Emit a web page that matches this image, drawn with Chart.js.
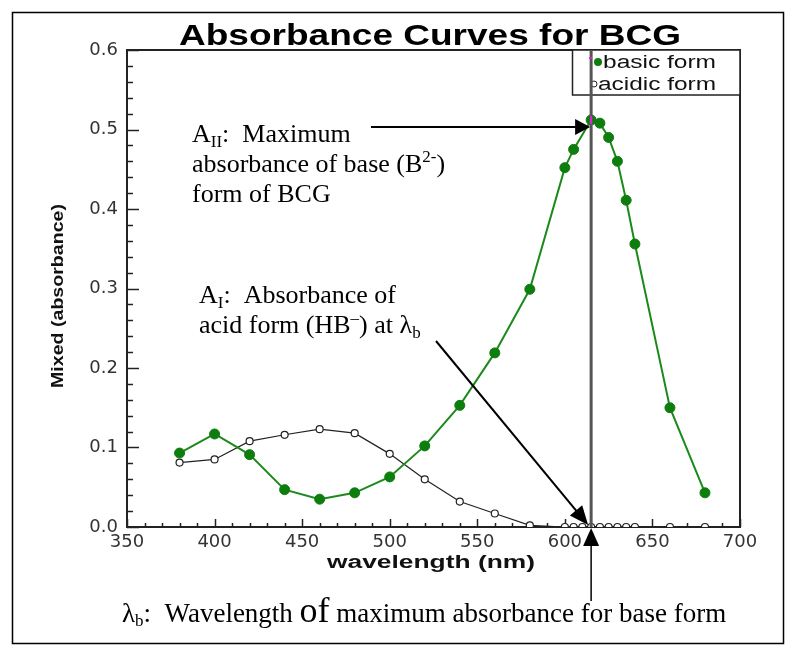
<!DOCTYPE html>
<html>
<head>
<meta charset="utf-8">
<script src="https://cdn.jsdelivr.net/npm/chart.js@4.4.1/dist/chart.umd.min.js"></script>
<style>
  body { margin: 0; background: #fff; }
  canvas { display: block; }
</style>
</head>
<body>
<canvas id="bcgChart" width="796" height="656"></canvas>
<script>
// wavelengths (nm) and absorbance values
const basicWavelength = [380, 400, 420, 440, 460, 480, 500, 520, 540, 560, 580, 600, 605, 615, 620, 625, 630, 635, 640, 660, 680];
const basicAbsorbance = [0.093, 0.117, 0.091, 0.047, 0.035, 0.043, 0.063, 0.102, 0.153, 0.219, 0.299, 0.452, 0.475, 0.512, 0.508, 0.490, 0.460, 0.411, 0.356, 0.150, 0.043];
const acidicWavelength = [380, 400, 420, 440, 460, 480, 500, 520, 540, 560, 580, 600, 605, 610, 615, 620, 625, 630, 635, 640, 660, 680];
const acidicAbsorbance = [0.081, 0.085, 0.108, 0.116, 0.123, 0.118, 0.092, 0.060, 0.032, 0.017, 0.002, 0, 0, 0, 0, 0, 0, 0, 0, 0, 0, 0];
const xTicks = [350, 400, 450, 500, 550, 600, 650, 700];
const yTicks = [0.0, 0.1, 0.2, 0.3, 0.4, 0.5, 0.6];
const lambdaB = 615;

function toPoints(xs, ys) {
    return xs.map(function (x, i) { return { x: x, y: ys[i] }; });
}

// draw text squeezed/stretched horizontally to a given width
function stretchText(ctx, text, x, y, font, width, align) {
    ctx.save();
    ctx.font = font;
    const w = ctx.measureText(text).width;
    ctx.translate(x, y);
    ctx.scale(width / w, 1);
    ctx.textAlign = align || 'center';
    ctx.fillText(text, 0, 0);
    ctx.restore();
}

// serif text made of runs (for sub/superscripts)
function drawRuns(ctx, x, y, runs) {
    ctx.textAlign = 'left';
    ctx.textBaseline = 'alphabetic';
    runs.forEach(function (r) {
        ctx.font = r.size + 'px "Liberation Serif", "Times New Roman", serif';
        ctx.fillText(r.t, x, y + (r.dy || 0));
        x += ctx.measureText(r.t).width;
    });
}

function arrow(ctx, x1, y1, x2, y2, len, half, width) {
    const a = Math.atan2(y2 - y1, x2 - x1);
    ctx.beginPath();
    ctx.moveTo(x1, y1);
    ctx.lineTo(x2 - Math.cos(a) * len * 0.8, y2 - Math.sin(a) * len * 0.8);
    ctx.lineWidth = width;
    ctx.stroke();
    ctx.beginPath();
    ctx.moveTo(x2, y2);
    ctx.lineTo(x2 - Math.cos(a) * len - Math.sin(a) * half, y2 - Math.sin(a) * len + Math.cos(a) * half);
    ctx.lineTo(x2 - Math.cos(a) * len + Math.sin(a) * half, y2 - Math.sin(a) * len - Math.cos(a) * half);
    ctx.closePath();
    ctx.fill();
}

const decorations = {
    id: 'decorations',
    beforeDatasetsDraw: function (chart) {
        const ctx = chart.ctx;
        const area = chart.chartArea;
        const xs = chart.scales.x;
        const ys = chart.scales.y;
        ctx.save();
        ctx.strokeStyle = '#222';
        ctx.lineWidth = 1.5;
        // inward minor/major ticks
        for (let v = 350; v <= 700; v += 10) {
            const px = Math.round(xs.getPixelForValue(v)) + 0.5;
            const len = v % 50 === 0 ? 8 : 4;
            ctx.beginPath();
            ctx.moveTo(px, area.bottom);
            ctx.lineTo(px, area.bottom - len);
            ctx.stroke();
        }
        for (let i = 0; i <= 30; i++) {
            const py = Math.round(ys.getPixelForValue(i * 0.02)) + 0.5;
            const len = i % 5 === 0 ? 12 : 6;
            ctx.beginPath();
            ctx.moveTo(area.left, py);
            ctx.lineTo(area.left + len, py);
            ctx.stroke();
        }
        // plot box
        ctx.lineWidth = 2;
        ctx.strokeRect(area.left, area.top, area.right - area.left, area.bottom - area.top);
        ctx.restore();
    },
    afterDraw: function (chart) {
        const ctx = chart.ctx;
        const area = chart.chartArea;
        const xs = chart.scales.x;
        const ys = chart.scales.y;
        const lx = xs.getPixelForValue(lambdaB);
        ctx.save();

        // outer frame
        ctx.strokeStyle = '#000';
        ctx.lineWidth = 1.5;
        ctx.strokeRect(12.5, 12.5, 771, 631);

        // title
        ctx.fillStyle = '#000';
        ctx.textBaseline = 'alphabetic';
        stretchText(ctx, 'Absorbance Curves for BCG', 430, 45, 'bold 30px "Liberation Sans", Arial, sans-serif', 502);

        // axis titles
        ctx.fillStyle = '#111';
        stretchText(ctx, 'wavelength (nm)', 431, 568, 'bold 18px "Liberation Sans", Arial, sans-serif', 208);
        ctx.save();
        ctx.translate(63, 296);
        ctx.rotate(-Math.PI / 2);
        stretchText(ctx, 'Mixed (absorbance)', 0, 0, 'bold 17px "Liberation Sans", Arial, sans-serif', 184);
        ctx.restore();

        // legend
        ctx.fillStyle = '#fff';
        ctx.fillRect(573, 50, 167, 45);
        ctx.strokeStyle = '#222';
        ctx.lineWidth = 1.5;
        ctx.strokeRect(572.5, 50, 167.5, 45);
        ctx.fillStyle = '#111';
        stretchText(ctx, 'basic form', 603, 68, '18px "Liberation Sans", Arial, sans-serif', 113, 'left');
        stretchText(ctx, 'acidic form', 598, 90, '18px "Liberation Sans", Arial, sans-serif', 118, 'left');
        ctx.fillStyle = '#0d7d0d';
        ctx.beginPath();
        ctx.arc(598, 62, 4, 0, Math.PI * 2);
        ctx.fill();
        ctx.strokeStyle = '#222';
        ctx.lineWidth = 1;
        ctx.beginPath();
        ctx.arc(594, 84, 3, 0, Math.PI * 2);
        ctx.stroke();

        // lambda_b vertical line
        ctx.strokeStyle = '#555';
        ctx.lineWidth = 3;
        ctx.beginPath();
        ctx.moveTo(lx, area.top);
        ctx.lineTo(lx, area.bottom);
        ctx.stroke();
        ctx.strokeStyle = '#e020e0';
        ctx.lineWidth = 2;
        const peakY = ys.getPixelForValue(Math.max.apply(null, basicAbsorbance));
        ctx.beginPath();
        ctx.moveTo(lx, peakY - 4);
        ctx.lineTo(lx, peakY + 4);
        ctx.stroke();
        ctx.beginPath();
        ctx.moveTo(lx - 2, 58);
        ctx.lineTo(lx + 1, 58);
        ctx.stroke();

        // arrows
        ctx.strokeStyle = '#000';
        ctx.fillStyle = '#000';
        arrow(ctx, lx, 601, lx, area.bottom + 1, 18, 8, 1.5);
        arrow(ctx, 371, 127, lx - 1, 127, 15, 8, 2);
        arrow(ctx, 436, 341, lx - 3, area.bottom - 2, 19, 8, 2);

        // annotation text
        ctx.fillStyle = '#000';
        drawRuns(ctx, 192, 142, [
            { t: 'A', size: 26 }, { t: 'II', size: 17, dy: 5 }, { t: ':  Maximum', size: 26 }
        ]);
        drawRuns(ctx, 192, 172, [
            { t: 'absorbance of base (B', size: 26 }, { t: '2-', size: 17, dy: -10 }, { t: ')', size: 26 }
        ]);
        drawRuns(ctx, 192, 202, [{ t: 'form of BCG', size: 26 }]);
        drawRuns(ctx, 199, 303, [
            { t: 'A', size: 26 }, { t: 'I', size: 17, dy: 5 }, { t: ':  Absorbance of', size: 26 }
        ]);
        drawRuns(ctx, 199, 333, [
            { t: 'acid form (HB', size: 26 }, { t: '\u2013', size: 17, dy: -10 }, { t: ') at \u03bb', size: 26 },
            { t: 'b', size: 17, dy: 5 }
        ]);
        drawRuns(ctx, 122, 622, [
            { t: '\u03bb', size: 27 }, { t: 'b', size: 17, dy: 4 }, { t: ':  Wavelength ', size: 27 },
            { t: 'of', size: 36 }, { t: ' maximum absorbance for base form', size: 27 }
        ]);
        ctx.restore();
    }
};

document.addEventListener('DOMContentLoaded', function () {
    const ctx = document.getElementById('bcgChart').getContext('2d');
    const tickFont = { family: '"DejaVu Sans", sans-serif', size: 18 };
    new Chart(ctx, {
        type: 'line',
        data: {
            datasets: [{
                label: 'basic form',
                data: toPoints(basicWavelength, basicAbsorbance),
                borderColor: '#1b8a1b',
                borderWidth: 2,
                backgroundColor: '#0d7d0d',
                pointBackgroundColor: '#0d7d0d',
                pointBorderColor: '#0d7d0d',
                pointRadius: 5,
                pointBorderWidth: 1,
                tension: 0
            }, {
                label: 'acidic form',
                data: toPoints(acidicWavelength, acidicAbsorbance),
                borderColor: '#222',
                borderWidth: 1.2,
                pointBackgroundColor: '#fff',
                pointBorderColor: '#222',
                pointRadius: 3.5,
                pointBorderWidth: 1.2,
                tension: 0
            }]
        },
        options: {
            responsive: false,
            animation: false,
            layout: { padding: { top: 50, right: 56, left: 0, bottom: 0 } },
            plugins: {
                legend: { display: false },
                title: { display: false },
                tooltip: { enabled: false }
            },
            scales: {
                x: {
                    type: 'linear',
                    min: 350,
                    max: 700,
                    afterFit: function (s) { s.height = 129; },
                    afterBuildTicks: function (s) { s.ticks = xTicks.map(function (v) { return { value: v }; }); },
                    grid: { display: false, drawTicks: false },
                    border: { display: false },
                    ticks: { padding: 5, color: '#333', font: tickFont, maxRotation: 0, autoSkip: false }
                },
                y: {
                    min: 0,
                    max: 0.6,
                    afterFit: function (s) { s.width = 127; },
                    afterBuildTicks: function (s) { s.ticks = yTicks.map(function (v) { return { value: v }; }); },
                    grid: { display: false, drawTicks: false },
                    border: { display: false },
                    ticks: {
                        padding: 9, color: '#333', font: tickFont, autoSkip: false,
                        callback: function (v) { return Number(v).toFixed(1); }
                    }
                }
            }
        },
        plugins: [decorations]
    });
});
</script>
</body>
</html>
